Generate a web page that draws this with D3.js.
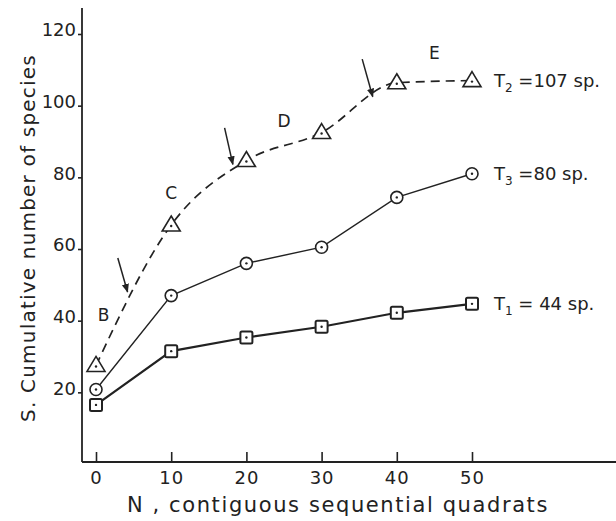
<!DOCTYPE html>
<html>
<head>
<meta charset="utf-8">
<script src="https://cdn.jsdelivr.net/npm/d3@7"></script>
<style>
  body { margin: 0; background: #fff; }
  svg { display: block; }
  text { font-family: "DejaVu Sans", sans-serif; fill: #222; }
  .axis path, .axis line { stroke: #222; stroke-width: 1.6; }
</style>
</head>
<body>
<svg width="616" height="521"></svg>
<script>
// values
const quadrats = [0, 10, 20, 30, 40, 50];
const t1 = [16.5, 31.5, 35.3, 38.3, 42.2, 44.7];   // squares
const t2 = [27.5, 66.7, 84.7, 92.5, 106.4, 107];   // triangles, dashed
const t3 = [20.8, 47, 56, 60.5, 74.4, 81];         // circles
const seriesLabels = [["T", "2", " =107 sp."], ["T", "3", " =80 sp."], ["T", "1", " = 44 sp."]];
const yTicks = [20, 40, 60, 80, 100, 120];
const phaseLetters = [["B", 1, 40], ["C", 10, 74], ["D", 25, 94], ["E", 45, 113]];
const arrows = [[2.9, 57.5, 4.2, 48], [17.1, 93.8, 18.2, 83.6], [35.4, 113, 36.8, 102.5]];

const svg = d3.select("svg");
const x = d3.scaleLinear().domain([0, 50]).range([96, 472]);
const y = d3.scaleLinear().domain([0, 120]).range([464, 34]);
const axisY = 82, axisX = 462;

// axes
svg.append("line").attr("x1", axisY).attr("x2", axisY).attr("y1", 8).attr("y2", axisX)
  .attr("stroke", "#222").attr("stroke-width", 1.8);
svg.append("line").attr("x1", axisY).attr("x2", 616).attr("y1", axisX).attr("y2", axisX)
  .attr("stroke", "#222").attr("stroke-width", 1.8);

svg.append("g").attr("class", "axis")
  .attr("transform", `translate(${axisY},0)`)
  .call(d3.axisLeft(y).tickValues(yTicks).tickSize(4).tickPadding(2))
  .call(g => g.select(".domain").remove())
  .selectAll("text").style("font-size", "18px").attr("dy", "0.1em");

svg.append("g").attr("class", "axis")
  .attr("transform", `translate(0,${axisX})`)
  .call(d3.axisBottom(x).tickValues(quadrats).tickSize(-10).tickPadding(9))
  .call(g => g.select(".domain").remove())
  .selectAll("text").style("font-size", "18px").style("letter-spacing", "1px");

svg.append("text").attr("transform", "translate(35,238) rotate(-90)")
  .attr("text-anchor", "middle").style("font-size", "20px").style("letter-spacing", "1.2px")
  .text("S. Cumulative number of species");

svg.append("text").attr("x", 338).attr("y", 512)
  .attr("text-anchor", "middle").style("font-size", "21px").style("letter-spacing", "1.6px")
  .text("N , contiguous sequential quadrats");

const line = d3.line().x((d, i) => x(quadrats[i])).y(d => y(d));

svg.append("path").datum(t2).attr("fill", "none").attr("stroke", "#222")
  .attr("stroke-width", 1.7).attr("stroke-dasharray", "9,6")
  .attr("d", line.curve(d3.curveMonotoneX));
svg.append("path").datum(t3).attr("fill", "none").attr("stroke", "#222")
  .attr("stroke-width", 1.4).attr("d", line.curve(d3.curveLinear));
svg.append("path").datum(t1).attr("fill", "none").attr("stroke", "#222")
  .attr("stroke-width", 2.2).attr("d", line.curve(d3.curveLinear));

function marks(data, type) {
  const g = svg.append("g").selectAll("g").data(data).join("g")
    .attr("transform", (d, i) => `translate(${x(quadrats[i])},${y(d)})`);
  if (type === "tri") {
    g.append("path").attr("d", "M0,-9L9,6L-9,6Z");
  } else if (type === "circ") {
    g.append("circle").attr("r", 6);
  } else {
    g.append("rect").attr("x", -6).attr("y", -6).attr("width", 12).attr("height", 12).attr("rx", 1.5);
  }
  g.selectAll("path,circle,rect").attr("fill", "#fff").attr("stroke", "#222")
    .attr("stroke-width", type === "sq" ? 2 : 1.6);
  g.append("circle").attr("r", 1.2).attr("cy", type === "tri" ? 1 : 0).attr("fill", "#222");
}
marks(t2, "tri");
marks(t3, "circ");
marks(t1, "sq");

// end labels
[t2, t3, t1].forEach((s, k) => {
  const t = svg.append("text").attr("x", x(50) + 22).attr("y", y(s[5]) + 6)
    .style("font-size", "18px");
  t.append("tspan").text(seriesLabels[k][0]);
  t.append("tspan").attr("dy", 5).style("font-size", "12px").text(seriesLabels[k][1]);
  t.append("tspan").attr("dy", -5).text(seriesLabels[k][2]);
});

svg.selectAll(".letter").data(phaseLetters).join("text")
  .attr("x", d => x(d[1])).attr("y", d => y(d[2]))
  .attr("text-anchor", "middle").style("font-size", "17px").text(d => d[0]);

// arrows
svg.append("defs").append("marker").attr("id", "ah")
  .attr("viewBox", "0 0 10 10").attr("refX", 9).attr("refY", 5)
  .attr("markerWidth", 6).attr("markerHeight", 6).attr("orient", "auto")
  .append("path").attr("d", "M0,1L10,5L0,9Z").attr("fill", "#222");
svg.selectAll(".arr").data(arrows).join("line")
  .attr("x1", d => x(d[0])).attr("y1", d => y(d[1]))
  .attr("x2", d => x(d[2])).attr("y2", d => y(d[3]))
  .attr("stroke", "#222").attr("stroke-width", 1.5).attr("marker-end", "url(#ah)");
</script>
</body>
</html>
